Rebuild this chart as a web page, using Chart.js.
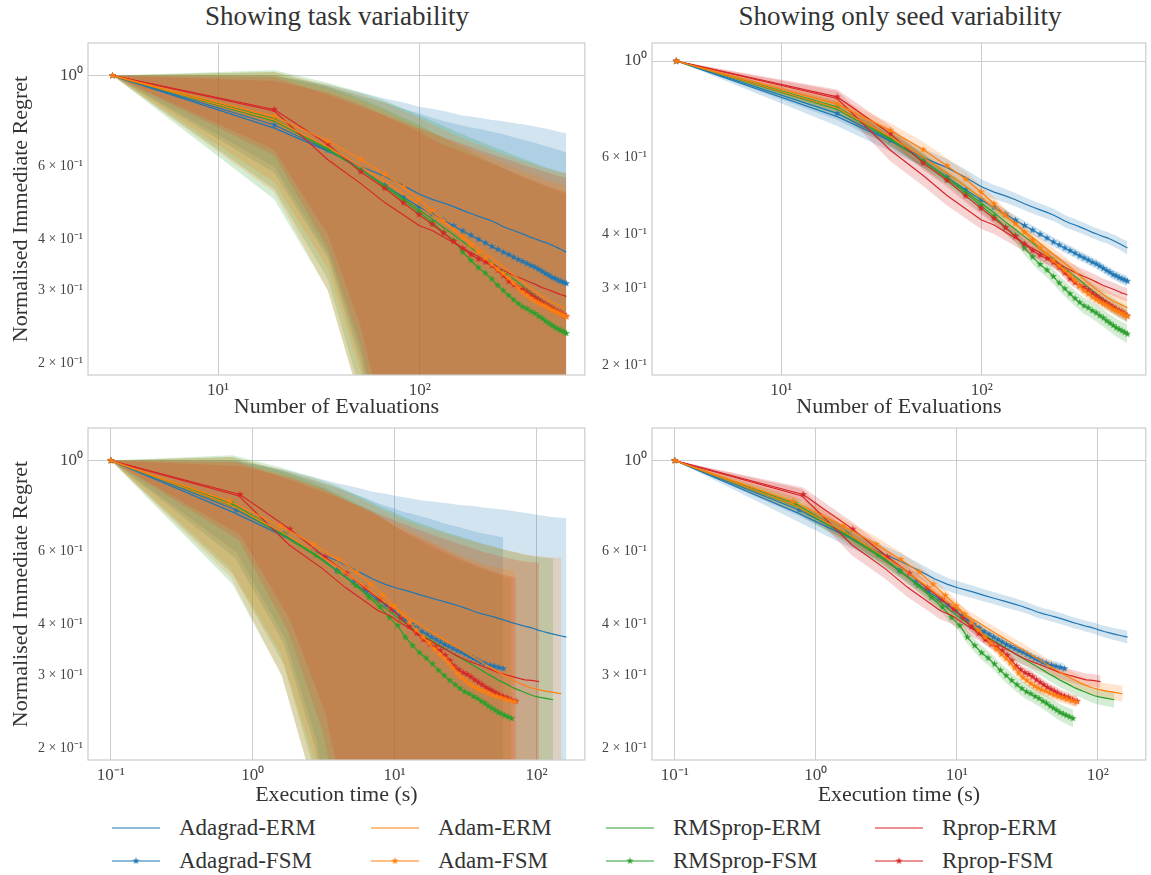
<!DOCTYPE html>
<html>
<head>
<meta charset="utf-8">
<script src="https://cdn.jsdelivr.net/npm/chart.js@4.4.1/dist/chart.umd.min.js"></script>
<style>
  body { margin: 0; background: #fff; width: 1151px; height: 875px; position: relative; overflow: hidden;
         font-family: "Liberation Serif", serif; color: #333; }
  canvas.panel { position: absolute; }
  .title { position: absolute; top: 1px; font-size: 27px; transform: translateX(-50%); white-space: nowrap; }
  .leg { position: absolute; height: 30px; display: flex; align-items: center; font-size: 23px; white-space: nowrap; }
  .leg canvas { margin-right: 19px; }
</style>
</head>
<body>
<div class="title" style="left:337px">Showing task variability</div>
<div class="title" style="left:900px">Showing only seed variability</div>
<canvas id="tl" class="panel" style="left:0;top:0" width="590" height="420"></canvas>
<canvas id="tr" class="panel" style="left:590px;top:0" width="561" height="420"></canvas>
<canvas id="bl" class="panel" style="left:0;top:420px" width="590" height="390"></canvas>
<canvas id="br" class="panel" style="left:590px;top:420px" width="561" height="390"></canvas>
<div id="legend"></div>

<script>
// number of evaluations (top row x values)
const evals = [3,19,35,51,67,83,99,115,131,147,163,179,195,211,227,243,259,275,291,307,323,339,355,371,387,403,419,435,451,467,483,499,515,531];

// mean normalised immediate regret
const adagradErm = [1.0,0.745,0.655,0.600,0.569,0.540,0.515,0.500,0.490,0.480,0.470,0.462,0.455,0.449,0.443,0.436,0.429,0.424,0.420,0.416,0.412,0.408,0.404,0.401,0.398,0.395,0.393,0.390,0.387,0.384,0.381,0.378,0.375,0.372];
const adagradFsm = [1.0,0.758,0.658,0.591,0.541,0.506,0.480,0.461,0.445,0.431,0.419,0.409,0.400,0.392,0.384,0.378,0.372,0.367,0.362,0.357,0.353,0.349,0.345,0.342,0.338,0.334,0.330,0.327,0.323,0.321,0.318,0.316,0.314,0.312];
const adamErm = [1.0,0.780,0.670,0.600,0.553,0.515,0.485,0.460,0.440,0.422,0.407,0.393,0.381,0.370,0.360,0.351,0.343,0.335,0.328,0.321,0.315,0.309,0.304,0.299,0.295,0.291,0.287,0.284,0.281,0.279,0.277,0.275,0.273,0.271];
const adamFsm = [1.0,0.796,0.693,0.626,0.575,0.536,0.500,0.470,0.443,0.423,0.404,0.387,0.372,0.360,0.348,0.338,0.330,0.322,0.313,0.304,0.297,0.292,0.287,0.283,0.280,0.277,0.275,0.272,0.269,0.267,0.265,0.263,0.261,0.259];
const rmspropErm = [1.0,0.775,0.660,0.590,0.540,0.502,0.472,0.448,0.427,0.410,0.395,0.382,0.370,0.360,0.351,0.342,0.334,0.327,0.320,0.314,0.308,0.302,0.297,0.292,0.288,0.284,0.280,0.277,0.274,0.271,0.268,0.266,0.264,0.262];
const rmspropFsm = [1.0,0.785,0.664,0.590,0.537,0.497,0.465,0.440,0.415,0.397,0.372,0.355,0.341,0.331,0.320,0.309,0.300,0.292,0.285,0.279,0.274,0.271,0.267,0.264,0.260,0.257,0.253,0.250,0.247,0.244,0.242,0.240,0.238,0.236];
const rpropErm = [1.0,0.820,0.624,0.546,0.491,0.458,0.432,0.420,0.405,0.392,0.381,0.371,0.363,0.355,0.348,0.342,0.336,0.331,0.327,0.323,0.320,0.317,0.314,0.311,0.308,0.305,0.303,0.301,0.299,0.297,0.295,0.293,0.292,0.290];
const rpropFsm = [1.0,0.827,0.681,0.583,0.532,0.490,0.459,0.435,0.414,0.395,0.380,0.367,0.358,0.352,0.345,0.336,0.326,0.316,0.310,0.305,0.302,0.298,0.293,0.289,0.285,0.281,0.278,0.275,0.272,0.269,0.267,0.265,0.262,0.260];

// execution time in seconds (bottom row x values)
const adagradErmTime = [0.1,0.75,1.65,2.75,4.0,5.4,7.0,8.6,10.3,12.8,15.6,18.6,21.7,25.0,28.5,32.6,36.8,41.2,45.8,50.6,55.6,60.8,66.2,71.8,77.6,83.6,89.8,96.2,102.8,111,121,133,147,162.5];
const adagradFsmTime = [0.1,0.763,1.69,2.8,3.9,5.1,6.3,7.5,8.7,9.9,10.9,12.0,13.2,14.4,15.6,16.9,18.2,19.6,21.0,22.5,24.1,25.8,27.6,29.5,31.5,33.6,35.8,38.1,40.6,43.2,47.0,50.5,54.2,58.2];
const adamErmTime = [0.1,0.7,1.6,2.7,3.9,5.2,6.6,8.1,9.7,11.5,13.7,16.1,18.7,21.5,24.5,27.7,31.1,34.7,38.5,42.5,46.7,51.1,55.7,60.5,65.5,70.8,76.4,82.4,88.8,96,104.5,116,131,150];
const adamFsmTime = [0.1,0.686,1.57,2.68,4.01,5.4,6.8,8.3,9.95,11.4,12.8,14.3,15.9,17.5,19.1,20.7,22.4,24.0,25.7,27.5,29.4,31.4,33.5,35.6,37.7,39.8,42.6,45.6,48.9,52.4,56.2,60.3,65.0,70.3];
const rmspropErmTime = [0.1,0.72,1.6,2.7,3.9,5.2,6.5,7.9,9.4,11.0,12.8,14.8,17.0,19.4,22.0,24.8,27.8,31.0,34.4,38.0,41.8,45.8,50.0,54.4,59.0,63.8,68.9,74.4,80.4,87,94.5,104,116.5,131];
const rmspropFsmTime = [0.1,0.72,1.65,2.8,4.0,5.3,6.6,7.9,9.2,10.5,11.9,13.4,15.0,16.7,18.5,20.4,22.4,24.5,26.7,28.9,31.2,33.5,35.9,38.3,40.8,43.3,45.9,48.5,51.2,54.0,56.9,59.9,63.2,66.7];
const rpropErmTime = [0.1,0.8,1.8,3.1,4.5,6.0,7.6,9.2,10.8,12.5,14.3,16.2,18.2,20.3,22.5,24.8,27.2,29.7,32.3,35.0,37.8,40.7,43.7,46.9,50.3,53.9,57.7,61.8,66.2,71,76.5,83,92,104.5];
const rpropFsmTime = [0.1,0.814,1.83,3.23,4.6,6.18,7.88,9.5,11.1,12.7,14.3,15.9,17.6,19.3,21.0,22.8,24.6,26.5,28.4,30.4,32.4,34.5,36.7,39.0,41.4,43.9,46.5,49.2,52.0,55.0,58.1,62.0,66.2,71.5];

// task variability band: upper edge
const adagradErmTaskHi = [1,1.0,0.95,0.91,0.88,0.86,0.84,0.83,0.82,0.81,0.80,0.795,0.79,0.785,0.78,0.777,0.774,0.77,0.767,0.764,0.761,0.758,0.755,0.752,0.749,0.746,0.743,0.74,0.737,0.734,0.731,0.728,0.726,0.724];
const adagradFsmTaskHi = [1,1.0,0.94,0.89,0.86,0.83,0.81,0.79,0.775,0.765,0.755,0.748,0.742,0.736,0.73,0.725,0.72,0.714,0.708,0.703,0.698,0.694,0.69,0.686,0.682,0.678,0.674,0.67,0.667,0.663,0.66,0.657,0.654,0.65];
const adamErmTaskHi = [1,1.02,0.95,0.9,0.86,0.82,0.79,0.76,0.74,0.72,0.705,0.69,0.68,0.67,0.66,0.652,0.645,0.638,0.632,0.626,0.621,0.616,0.611,0.607,0.603,0.599,0.596,0.593,0.59,0.587,0.585,0.583,0.581,0.58];
const adamFsmTaskHi = [1,1.0,0.93,0.87,0.82,0.78,0.75,0.725,0.705,0.69,0.675,0.662,0.65,0.64,0.63,0.622,0.614,0.606,0.599,0.593,0.587,0.582,0.577,0.572,0.568,0.564,0.56,0.556,0.553,0.55,0.547,0.544,0.542,0.54];
const rmspropErmTaskHi = [1,1.03,0.96,0.91,0.87,0.83,0.80,0.775,0.755,0.735,0.72,0.706,0.694,0.683,0.673,0.664,0.656,0.648,0.641,0.634,0.628,0.622,0.617,0.612,0.607,0.603,0.599,0.595,0.591,0.588,0.585,0.582,0.58,0.578];
const rmspropFsmTaskHi = [1,1.02,0.94,0.88,0.83,0.79,0.76,0.73,0.705,0.685,0.668,0.652,0.638,0.626,0.615,0.605,0.596,0.588,0.58,0.573,0.567,0.561,0.556,0.551,0.546,0.542,0.538,0.534,0.53,0.527,0.524,0.521,0.518,0.515];
const rpropErmTaskHi = [1,0.99,0.90,0.84,0.80,0.77,0.745,0.725,0.708,0.694,0.682,0.671,0.661,0.652,0.644,0.637,0.63,0.624,0.618,0.612,0.607,0.602,0.598,0.594,0.59,0.586,0.583,0.58,0.577,0.574,0.571,0.568,0.566,0.564];
const rpropFsmTaskHi = [1,0.97,0.91,0.85,0.80,0.76,0.73,0.70,0.68,0.665,0.652,0.64,0.63,0.62,0.611,0.603,0.595,0.588,0.581,0.575,0.569,0.564,0.559,0.554,0.55,0.546,0.542,0.538,0.535,0.532,0.529,0.526,0.523,0.52];

// task variability band: lower edge (drops far below the axis)
const adagradErmTaskLo = [1,0.58,0.36,0.20,0.10,0.01,0.01,0.01,0.01,0.01,0.01,0.01,0.01,0.01,0.01,0.01,0.01,0.01,0.01,0.01,0.01,0.01,0.01,0.01,0.01,0.01,0.01,0.01,0.01,0.01,0.01,0.01,0.01,0.01];
const adagradFsmTaskLo = [1,0.60,0.37,0.21,0.11,0.01,0.01,0.01,0.01,0.01,0.01,0.01,0.01,0.01,0.01,0.01,0.01,0.01,0.01,0.01,0.01,0.01,0.01,0.01,0.01,0.01,0.01,0.01,0.01,0.01,0.01,0.01,0.01,0.01];
const adamErmTaskLo = [1,0.52,0.30,0.16,0.07,0.01,0.01,0.01,0.01,0.01,0.01,0.01,0.01,0.01,0.01,0.01,0.01,0.01,0.01,0.01,0.01,0.01,0.01,0.01,0.01,0.01,0.01,0.01,0.01,0.01,0.01,0.01,0.01,0.01];
const adamFsmTaskLo = [1,0.55,0.34,0.19,0.10,0.01,0.01,0.01,0.01,0.01,0.01,0.01,0.01,0.01,0.01,0.01,0.01,0.01,0.01,0.01,0.01,0.01,0.01,0.01,0.01,0.01,0.01,0.01,0.01,0.01,0.01,0.01,0.01,0.01];
const rmspropErmTaskLo = [1,0.50,0.30,0.16,0.07,0.01,0.01,0.01,0.01,0.01,0.01,0.01,0.01,0.01,0.01,0.01,0.01,0.01,0.01,0.01,0.01,0.01,0.01,0.01,0.01,0.01,0.01,0.01,0.01,0.01,0.01,0.01,0.01,0.01];
const rmspropFsmTaskLo = [1,0.53,0.32,0.17,0.08,0.01,0.01,0.01,0.01,0.01,0.01,0.01,0.01,0.01,0.01,0.01,0.01,0.01,0.01,0.01,0.01,0.01,0.01,0.01,0.01,0.01,0.01,0.01,0.01,0.01,0.01,0.01,0.01,0.01];
const rpropErmTaskLo = [1,0.64,0.38,0.22,0.12,0.01,0.01,0.01,0.01,0.01,0.01,0.01,0.01,0.01,0.01,0.01,0.01,0.01,0.01,0.01,0.01,0.01,0.01,0.01,0.01,0.01,0.01,0.01,0.01,0.01,0.01,0.01,0.01,0.01];
const rpropFsmTaskLo = [1,0.66,0.41,0.245,0.14,0.01,0.01,0.01,0.01,0.01,0.01,0.01,0.01,0.01,0.01,0.01,0.01,0.01,0.01,0.01,0.01,0.01,0.01,0.01,0.01,0.01,0.01,0.01,0.01,0.01,0.01,0.01,0.01,0.01];

// seed variability: relative half width of the band
const adagradErmSeed = [0,0.05,0.055,0.05,0.046,0.043,0.04,0.038,0.037,0.036,0.035,0.035,0.034,0.034,0.033,0.033,0.033,0.032,0.032,0.032,0.032,0.031,0.031,0.031,0.031,0.031,0.031,0.032,0.032,0.033,0.033,0.034,0.035,0.036];
const adagradFsmSeed = [0,0.035,0.032,0.03,0.028,0.027,0.026,0.025,0.025,0.025,0.025,0.025,0.025,0.025,0.025,0.025,0.025,0.025,0.025,0.025,0.025,0.025,0.025,0.025,0.025,0.025,0.025,0.026,0.026,0.026,0.027,0.027,0.028,0.028];
const adamErmSeed = [0,0.035,0.04,0.04,0.038,0.036,0.035,0.034,0.033,0.033,0.033,0.033,0.033,0.033,0.034,0.034,0.035,0.035,0.036,0.036,0.037,0.038,0.038,0.039,0.04,0.04,0.041,0.042,0.042,0.043,0.044,0.044,0.045,0.046];
const adamFsmSeed = [0,0.035,0.04,0.042,0.04,0.038,0.036,0.034,0.032,0.031,0.03,0.03,0.03,0.03,0.03,0.03,0.03,0.03,0.03,0.03,0.03,0.03,0.03,0.03,0.03,0.03,0.03,0.03,0.03,0.03,0.03,0.03,0.03,0.03];
const rmspropErmSeed = [0,0.035,0.04,0.04,0.038,0.036,0.035,0.034,0.034,0.034,0.034,0.035,0.035,0.036,0.036,0.037,0.037,0.038,0.038,0.039,0.039,0.04,0.04,0.041,0.041,0.042,0.042,0.043,0.043,0.044,0.044,0.045,0.045,0.046];
const rmspropFsmSeed = [0,0.035,0.038,0.038,0.036,0.035,0.035,0.035,0.036,0.037,0.038,0.039,0.04,0.04,0.041,0.041,0.042,0.042,0.043,0.043,0.044,0.044,0.045,0.045,0.046,0.046,0.047,0.047,0.048,0.048,0.049,0.049,0.05,0.05];
const rpropErmSeed = [0,0.04,0.06,0.058,0.055,0.052,0.05,0.048,0.046,0.044,0.043,0.042,0.041,0.04,0.04,0.039,0.039,0.038,0.038,0.038,0.037,0.037,0.037,0.037,0.036,0.036,0.036,0.036,0.036,0.036,0.036,0.036,0.036,0.036];
const rpropFsmSeed = [0,0.04,0.04,0.038,0.036,0.034,0.032,0.031,0.03,0.03,0.03,0.03,0.03,0.03,0.03,0.03,0.03,0.03,0.03,0.03,0.03,0.03,0.03,0.03,0.03,0.03,0.03,0.03,0.03,0.03,0.03,0.03,0.03,0.03];

// axis ticks
const evalTicks = [10, 100];
const timeTicks = [0.1, 1, 10, 100];
const regretTicks = [0.2, 0.3, 0.4, 0.6, 1];
const tickText = { 0.1: '10⁻¹', 1: '10⁰', 10: '10¹', 100: '10²' };
const regretText = { 1: '10⁰', 0.6: '6 × 10⁻¹', 0.4: '4 × 10⁻¹', 0.3: '3 × 10⁻¹', 0.2: '2 × 10⁻¹' };

// drawing rank: Adagrad first, then RMSprop, Rprop, Adam on top
const series = [
  { label: 'Adagrad-ERM', color: '#1f77b4', fsm: false, rank: 0, mean: adagradErm, time: adagradErmTime, hi: adagradErmTaskHi, lo: adagradErmTaskLo, seed: adagradErmSeed },
  { label: 'Adagrad-FSM', color: '#1f77b4', fsm: true, rank: 1, mean: adagradFsm, time: adagradFsmTime, hi: adagradFsmTaskHi, lo: adagradFsmTaskLo, seed: adagradFsmSeed },
  { label: 'Adam-ERM', color: '#ff7f0e', fsm: false, rank: 6, mean: adamErm, time: adamErmTime, hi: adamErmTaskHi, lo: adamErmTaskLo, seed: adamErmSeed },
  { label: 'Adam-FSM', color: '#ff7f0e', fsm: true, rank: 7, mean: adamFsm, time: adamFsmTime, hi: adamFsmTaskHi, lo: adamFsmTaskLo, seed: adamFsmSeed },
  { label: 'RMSprop-ERM', color: '#2ca02c', fsm: false, rank: 2, mean: rmspropErm, time: rmspropErmTime, hi: rmspropErmTaskHi, lo: rmspropErmTaskLo, seed: rmspropErmSeed },
  { label: 'RMSprop-FSM', color: '#2ca02c', fsm: true, rank: 3, mean: rmspropFsm, time: rmspropFsmTime, hi: rmspropFsmTaskHi, lo: rmspropFsmTaskLo, seed: rmspropFsmSeed },
  { label: 'Rprop-ERM', color: '#d62728', fsm: false, rank: 4, mean: rpropErm, time: rpropErmTime, hi: rpropErmTaskHi, lo: rpropErmTaskLo, seed: rpropErmSeed },
  { label: 'Rprop-FSM', color: '#d62728', fsm: true, rank: 5, mean: rpropFsm, time: rpropFsmTime, hi: rpropFsmTaskHi, lo: rpropFsmTaskLo, seed: rpropFsmSeed },
];

const FONT = 'Liberation Serif';

function rgba(hex, a) {
  const n = parseInt(hex.slice(1), 16);
  return `rgba(${n >> 16},${(n >> 8) & 255},${n & 255},${a})`;
}

function starMarker(color) {
  const c = document.createElement('canvas');
  c.width = 9; c.height = 9;
  const g = c.getContext('2d');
  g.fillStyle = color;
  g.beginPath();
  for (let i = 0; i < 10; i++) {
    const r = i % 2 ? 1.5 : 3.8;
    const a = -Math.PI / 2 + i * Math.PI / 5;
    g.lineTo(4.5 + r * Math.cos(a), 4.5 + r * Math.sin(a));
  }
  g.closePath();
  g.fill();
  return c;
}

function buildDatasets(useTime, band) {
  const ds = [];
  series.forEach(s => {
    const xs = useTime ? s.time : evals;
    const hi = band === 'task' ? s.hi : s.mean.map((m, i) => m * (1 + s.seed[i]));
    const lo = band === 'task' ? s.lo : s.mean.map((m, i) => m / (1 + s.seed[i]));
    ds.push({ data: xs.map((x, i) => ({ x, y: hi[i] })), fill: '+1', backgroundColor: rgba(s.color, 0.2),
              showLine: false, pointRadius: 0, order: 100 - s.rank });
    ds.push({ data: xs.map((x, i) => ({ x, y: lo[i] })), fill: false, showLine: false, pointRadius: 0, order: 100 - s.rank });
  });
  series.forEach(s => {
    const xs = useTime ? s.time : evals;
    ds.push({ label: s.label, data: xs.map((x, i) => ({ x, y: s.mean[i] })), borderColor: s.color, borderWidth: 1.2,
              fill: false, pointRadius: s.fsm ? 3 : 0, pointStyle: s.fsm ? starMarker(s.color) : 'circle', order: -s.rank });
  });
  return ds;
}

const framePlugin = {
  id: 'frame',
  afterDatasetsDraw(chart) {
    const { ctx, chartArea: a } = chart;
    ctx.save();
    ctx.strokeStyle = '#cccccc';
    ctx.lineWidth = 1.2;
    ctx.strokeRect(a.left, a.top, a.right - a.left, a.bottom - a.top);
    ctx.restore();
  }
};

function makeChart(id, cfg) {
  new Chart(document.getElementById(id), {
    type: 'line',
    data: { datasets: buildDatasets(cfg.useTime, cfg.band) },
    plugins: [framePlugin],
    options: {
      responsive: false,
      animation: false,
      devicePixelRatio: 1,
      layout: { padding: cfg.padding },
      plugins: { legend: { display: false }, tooltip: { enabled: false }, filler: { drawTime: 'beforeDatasetsDraw' } },
      scales: {
        x: {
          type: 'logarithmic', min: cfg.xMin, max: cfg.xMax,
          afterBuildTicks: s => { s.ticks = cfg.xTicks.map(v => ({ value: v })); },
          afterFit: s => { s.height = cfg.xHeight; s.paddingLeft = 0; s.paddingRight = 0; },
          border: { display: false },
          grid: { color: '#cccccc', lineWidth: 1, drawTicks: false },
          ticks: { autoSkip: false, maxRotation: 0, padding: 5, color: '#444',
                   font: { family: FONT, size: 17 }, callback: v => tickText[v] },
          title: { display: true, text: cfg.xTitle, color: '#333', font: { family: FONT, size: 22 },
                   padding: { top: 0, bottom: cfg.xTitlePad } }
        },
        y: {
          type: 'logarithmic', min: cfg.yMin, max: cfg.yMax,
          afterBuildTicks: s => { s.ticks = regretTicks.map(v => ({ value: v })); },
          afterFit: s => { s.width = cfg.yWidth; s.paddingTop = 0; s.paddingBottom = 0; },
          border: { display: false },
          grid: { color: c => (c.tick && c.tick.value === 1 ? '#cccccc' : 'rgba(0,0,0,0)'), lineWidth: 1, drawTicks: false },
          ticks: { autoSkip: false, padding: 5, color: '#444',
                   font: c => ({ family: FONT, size: c.tick && c.tick.value === 1 ? 17 : 14 }),
                   callback: v => regretText[v] },
          title: { display: cfg.yTitle, text: 'Normalised Immediate Regret', color: '#333',
                   font: { family: FONT, size: 22 }, padding: { top: 8, bottom: 0 } }
        }
      }
    }
  });
}

makeChart('tl', { useTime: false, band: 'task', padding: { top: 43, right: 5, left: 0, bottom: 0 },
  xMin: 2.27, xMax: 656, xTicks: evalTicks, xHeight: 45, xTitle: 'Number of Evaluations', xTitlePad: 0,
  yMin: 0.187, yMax: 1.2, yWidth: 88, yTitle: true });
makeChart('tr', { useTime: false, band: 'seed', padding: { top: 43, right: 3, left: 0, bottom: 0 },
  xMin: 2.27, xMax: 656, xTicks: evalTicks, xHeight: 45, xTitle: 'Number of Evaluations', xTitlePad: 0,
  yMin: 0.19, yMax: 1.10, yWidth: 62, yTitle: false });
makeChart('bl', { useTime: true, band: 'task', padding: { top: 8, right: 5, left: 0, bottom: 0 },
  xMin: 0.069, xMax: 219, xTicks: timeTicks, xHeight: 50, xTitle: 'Execution time (s)', xTitlePad: 2,
  yMin: 0.187, yMax: 1.2, yWidth: 88, yTitle: true });
makeChart('br', { useTime: true, band: 'seed', padding: { top: 8, right: 3, left: 0, bottom: 0 },
  xMin: 0.069, xMax: 219, xTicks: timeTicks, xHeight: 50, xTitle: 'Execution time (s)', xTitlePad: 2,
  yMin: 0.187, yMax: 1.2, yWidth: 62, yTitle: false });

// legend, four columns by two rows (ERM on top, FSM below)
const legendCols = [112, 371, 606, 875];
const legendRows = [813, 846];
const legend = document.getElementById('legend');
series.forEach((s, k) => {
  const item = document.createElement('div');
  item.className = 'leg';
  item.style.left = legendCols[Math.floor(k / 2)] + 'px';
  item.style.top = legendRows[k % 2] + 'px';
  const c = document.createElement('canvas');
  c.width = 48; c.height = 12;
  const g = c.getContext('2d');
  g.strokeStyle = s.color; g.lineWidth = 1.2;
  g.beginPath(); g.moveTo(0, 6); g.lineTo(48, 6); g.stroke();
  if (s.fsm) g.drawImage(starMarker(s.color), 24 - 4.5, 6 - 4.5);
  item.appendChild(c);
  item.appendChild(document.createTextNode(s.label));
  legend.appendChild(item);
});
</script>
</body>
</html>
